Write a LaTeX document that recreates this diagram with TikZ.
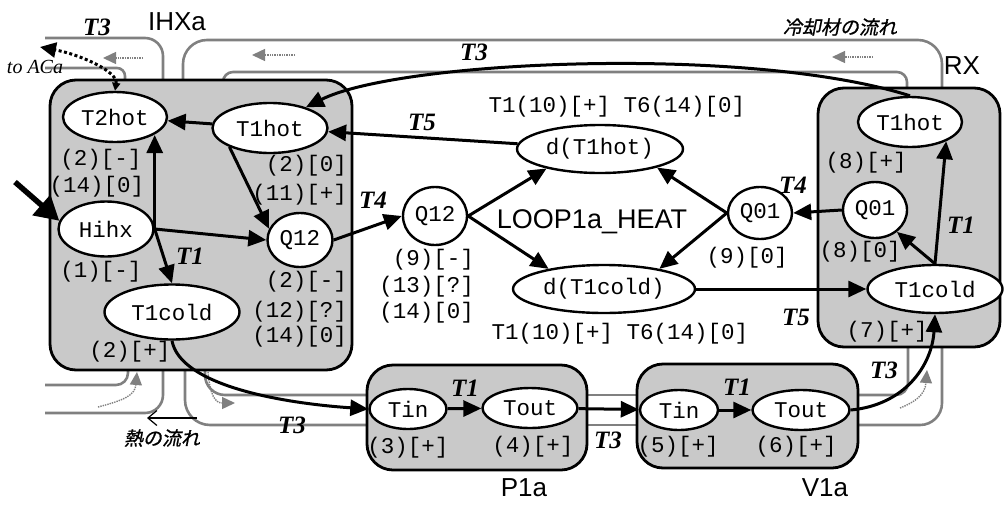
\documentclass[tikz,border=0pt]{standalone}
\usepackage{fontspec}
\newfontfamily\courfont{Liberation Mono}
\newfontfamily\labfont{Liberation Sans}
\newfontfamily\serfont{Liberation Serif}
\newfontfamily\jpfont[FakeSlant=0.2,FakeBold=1]{Noto Sans CJK JP}
\usetikzlibrary{arrows.meta, shapes.geometric}

\begin{document}
\begin{tikzpicture}[x=1pt, y=-1pt,
  >={Triangle[length=18pt,width=16pt]},
  var/.style={ellipse, draw, line width=2.4pt, fill=white, inner sep=0pt,
    font=\courfont\fontsize{22.5}{26}\selectfont},
  qual/.style={inner sep=0pt, font=\courfont\fontsize{22.5}{26}\selectfont},
  tlab/.style={inner sep=0pt, font=\serfont\bfseries\itshape\fontsize{25}{28}\selectfont},
  comp/.style={inner sep=0pt, font=\labfont\fontsize{26}{30}\selectfont},
  compbox/.style={draw, line width=2.8pt, rounded corners=26pt, fill=gray!42},
  arr/.style={->, line width=3pt},
  pipe/.style={gray, line width=2.6pt},
  flow/.style={gray, line width=1.4pt, densely dotted, -{Triangle[length=13pt,width=12pt]}}]
  \useasboundingbox (0,0) rectangle (1004,504);

  % Coolant pipes
  \draw[pipe, rounded corners=18pt] (45,38) -- (163,38) -- (163,80);
  \draw[pipe, rounded corners=8pt] (45,68) -- (125,68) -- (125,80);
  \draw[pipe, rounded corners=24pt] (183,80) -- (183,40) -- (942,40) -- (942,88);
  \draw[pipe, rounded corners=10pt] (223,80) -- (223,72) -- (907,72) -- (907,88);
  \draw[pipe, rounded corners=12pt] (45,385) -- (128,385) -- (128,370);
  \draw[pipe, rounded corners=18pt] (45,413) -- (163,413) -- (163,370);
  \draw[pipe, rounded corners=25pt] (185,370) -- (185,425) -- (367,425);
  \draw[pipe, rounded corners=20pt] (205,370) -- (205,395) -- (367,395);
  \draw[pipe] (587,395) -- (637,395);
  \draw[pipe] (587,425) -- (637,425);
  \draw[pipe, rounded corners=12pt] (858,395) -- (908,395) -- (908,347);
  \draw[pipe, rounded corners=22pt] (858,425) -- (942,425) -- (942,347);

  % Flow marks
  \draw[flow] (143,58) -- (103,58);
  \draw[flow] (295,55) -- (252,55);
  \draw[flow] (873,57) -- (832,57);
  \draw[flow] (98,407) .. controls (125,400) and (135,395) .. (137,372);
  \draw[flow] (208,372) .. controls (210,395) and (215,403) .. (235,403);
  \draw[flow] (900,408) .. controls (915,402) and (925,395) .. (927,370);

  % Components
  \draw[compbox] (50,80) rectangle (352,370);
  \draw[compbox] (818,88) rectangle (1000,347);
  \draw[compbox] (367,365) rectangle (587,470);
  \draw[compbox] (637,364) rectangle (858,468);
  \node[comp] (ihxa) at (177,22) {IHXa};
  \node[comp] (rx) at (962,66) {RX};
  \node[comp] (p1a) at (524,488) {P1a};
  \node[comp] (v1a) at (825,488) {V1a};
  \node[comp, font=\labfont\fontsize{27}{30}\selectfont] (loop) at (592,222) {LOOP1a\_HEAT};

  % IHXa variables
  \node[var, minimum width=104pt, minimum height=50pt] (T2hot) at (115,117) {T2hot};
  \node[var, minimum width=115pt, minimum height=50pt] (T1hotL) at (270,128) {T1hot};
  \node[var, minimum width=95pt, minimum height=55pt] (Hihx) at (106,229) {Hihx};
  \node[var, minimum width=65pt, minimum height=54pt] (Q12L) at (300,240) {Q12};
  \node[var, minimum width=135pt, minimum height=55pt] (T1coldL) at (172,312) {T1cold};

  % Loop variables
  \node[var, minimum width=64pt, minimum height=58pt] (Q12M) at (435,216) {Q12};
  \node[var, minimum width=166pt, minimum height=48pt] (dT1hot) at (600,149) {d(T1hot)};
  \node[var, minimum width=182pt, minimum height=48pt] (dT1cold) at (604,289) {d(T1cold)};
  \node[var, minimum width=64pt, minimum height=52pt] (Q01M) at (760,213) {Q01};

  % RX variables
  \node[var, minimum width=104pt, minimum height=50pt] (T1hotR) at (910,122) {T1hot};
  \node[var, minimum width=64pt, minimum height=56pt] (Q01R) at (875,210) {Q01};
  \node[var, minimum width=135pt, minimum height=48pt] (T1coldR) at (935,289) {T1cold};

  % P1a and V1a variables
  \node[var, minimum width=77pt, minimum height=40pt] (TinP) at (408,409) {Tin};
  \node[var, minimum width=95pt, minimum height=40pt] (ToutP) at (530,408) {Tout};
  \node[var, minimum width=78pt, minimum height=40pt] (TinV) at (679,410) {Tin};
  \node[var, minimum width=97pt, minimum height=40pt] (ToutV) at (801,410) {Tout};

  % Qualitative values
  \node[qual] (q1) at (101,160) {(2)[-]};
  \node[qual] (q2) at (97,187) {(14)[0]};
  \node[qual] (q3) at (101,272) {(1)[-]};
  \node[qual] (q4) at (130,352) {(2)[+]};
  \node[qual, anchor=east] (q5) at (347,166) {(2)[0]};
  \node[qual, anchor=east] (q6) at (347,195) {(11)[+]};
  \node[qual, anchor=east] (q7) at (347,282) {(2)[-]};
  \node[qual, anchor=east] (q8) at (347,312) {(12)[?]};
  \node[qual, anchor=east] (q9) at (347,337) {(14)[0]};
  \node[qual, anchor=east] (q10) at (474,260) {(9)[-]};
  \node[qual, anchor=east] (q11) at (474,287) {(13)[?]};
  \node[qual, anchor=east] (q12) at (474,313) {(14)[0]};
  \node[qual] (q13) at (617,107) {T1(10)[+] T6(14)[0]};
  \node[qual] (q14) at (620,334) {T1(10)[+] T6(14)[0]};
  \node[qual] (q15) at (747,258) {(9)[0]};
  \node[qual] (q16) at (866,163) {(8)[+]};
  \node[qual] (q17) at (860,252) {(8)[0]};
  \node[qual] (q18) at (887,332) {(7)[+]};
  \node[qual] (q19) at (408,448) {(3)[+]};
  \node[qual] (q20) at (533,447) {(4)[+]};
  \node[qual] (q21) at (678,447) {(5)[+]};
  \node[qual] (q22) at (796,447) {(6)[+]};

  % Influences
  \draw[arr] (T1hotL) -- (T2hot);
  \draw[arr] (Hihx.east) -- (Hihx.east |- T2hot.-25);
  \draw[arr] (Hihx.east) -- (T1coldL.north);
  \draw[arr] (Hihx.east) -- (Q12L.west);
  \draw[arr] (T1hotL.205) -- (Q12L.160);
  \draw[arr] (Q12L.east) -- (Q12M.west);
  \draw[arr] (dT1hot) -- (T1hotL);
  \draw[arr] (Q12M.east) -- (dT1hot.200);
  \draw[arr] (Q12M.east) -- (dT1cold.160);
  \draw[arr] (Q01M.west) -- (dT1hot.-18);
  \draw[arr] (Q01M.west) -- (dT1cold.20);
  \draw[arr] (Q01R.west) -- (Q01M.east);
  \draw[arr] (T1coldR.north) -- (Q01R.-45);
  \draw[arr] (T1coldR.north) -- (T1hotR.-28);
  \draw[arr] (dT1cold.east) -- (T1coldR.west);
  \draw[arr] (T1hotR.north) .. controls (750,45) and (400,60) .. (T1hotL.30);
  \draw[arr] (T1coldL.south) .. controls (180,385) and (280,403) .. (TinP.west);
  \draw[arr] (TinP) -- (ToutP);
  \draw[arr] (ToutP) -- (TinV);
  \draw[arr] (TinV) -- (ToutV);
  \draw[arr] (ToutV.east) .. controls (905,405) and (932,365) .. (T1coldR.south);

  % Heat input and output
  \coordinate (hin) at (15,182);
  \draw[line width=5.5pt, -{Triangle[length=24pt,width=26pt]}] (hin) -- (Hihx.170);
  \coordinate (aca) at (40,47);
  \draw[line width=3pt, dash pattern=on 3pt off 2.5pt,
    {Triangle[length=8pt,width=8pt]}-{Triangle[length=16pt,width=15pt]}]
    (T2hot.north) .. controls (118,72) and (82,55) .. (aca);
  \node[inner sep=0pt, font=\serfont\itshape\fontsize{20}{22}\selectfont] (toaca) at (35,67) {to ACa};

  % Transfer labels
  \node[tlab] (t3a) at (97,27) {T3};
  \node[tlab] (t3b) at (474,52) {T3};
  \node[tlab] (t5a) at (422,122) {T5};
  \node[tlab] (t4a) at (373,200) {T4};
  \node[tlab] (t1a) at (190,256) {T1};
  \node[tlab] (t4b) at (793,185) {T4};
  \node[tlab] (t1b) at (961,225) {T1};
  \node[tlab] (t5b) at (796,317) {T5};
  \node[tlab] (t3c) at (292,425) {T3};
  \node[tlab] (t1c) at (465,388) {T1};
  \node[tlab] (t3d) at (608,440) {T3};
  \node[tlab] (t1d) at (737,387) {T1};
  \node[tlab] (t3e) at (884,370) {T3};

  % Flow legends
  \node[inner sep=0pt, font=\jpfont\fontsize{19}{22}\selectfont] (coolant) at (840,27) {冷却材の流れ};
  \node[inner sep=0pt, font=\jpfont\fontsize{19}{22}\selectfont] (heat) at (162,438) {熱の流れ};
  \coordinate (hfs) at (197,418);
  \coordinate (hfe) at (147,418);
  \draw[line width=1.2pt, -{Straight Barb[length=9pt,width=15pt]}] (hfs) -- (hfe);
\end{tikzpicture}
\end{document}
